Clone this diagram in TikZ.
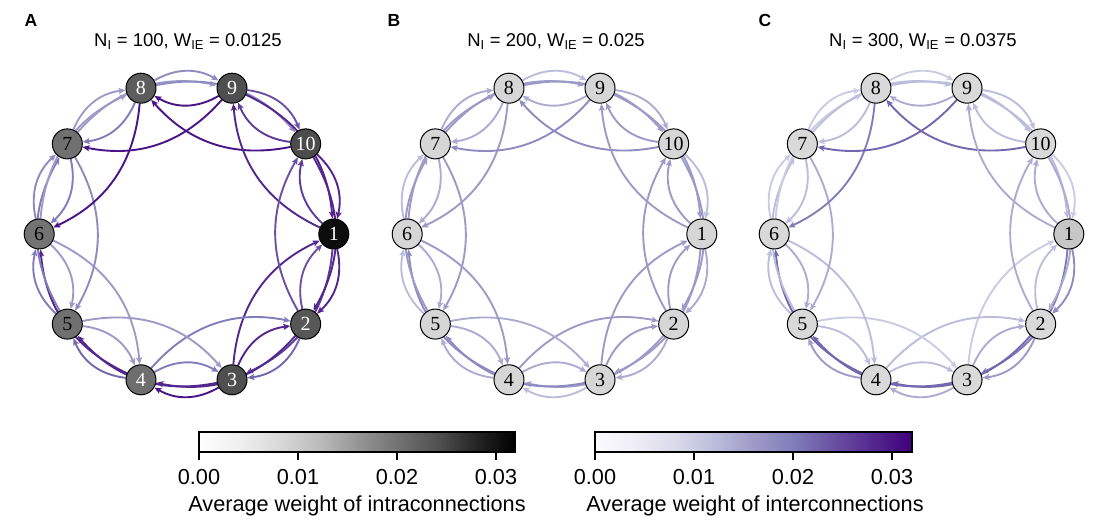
\documentclass[tikz,border=0pt]{standalone}
\usepackage{fontspec}
\setmainfont{Liberation Serif}
\setsansfont{Liberation Sans}
\usetikzlibrary{arrows.meta}
\pgfdeclarelayer{edges}
\pgfsetlayers{edges,main}
\definecolor{P0}{HTML}{FCFBFD}\definecolor{P1}{HTML}{EFEDF5}\definecolor{P2}{HTML}{DADAEB}
\definecolor{P3}{HTML}{BCBDDC}\definecolor{P4}{HTML}{9E9AC8}\definecolor{P5}{HTML}{807DBA}
\definecolor{P6}{HTML}{6A51A3}\definecolor{P7}{HTML}{54278F}\definecolor{P8}{HTML}{3F007D}
\definecolor{G0}{HTML}{FFFFFF}\definecolor{G1}{HTML}{F0F0F0}\definecolor{G2}{HTML}{D9D9D9}
\definecolor{G3}{HTML}{BDBDBD}\definecolor{G4}{HTML}{969696}\definecolor{G5}{HTML}{737373}
\definecolor{G6}{HTML}{525252}\definecolor{G7}{HTML}{252525}\definecolor{G8}{HTML}{000000}
\colorlet{L20}{P2}\colorlet{L25}{P2!50!P3}\colorlet{L30}{P3}\colorlet{L35}{P3!50!P4}
\colorlet{L40}{P4}\colorlet{L45}{P4!50!P5}\colorlet{L50}{P5}\colorlet{L55}{P5!50!P6}
\colorlet{L60}{P6}\colorlet{L65}{P6!50!P7}\colorlet{L70}{P7}\colorlet{L75}{P7!50!P8}\colorlet{L80}{P8}
\pgfdeclarehorizontalshading{purples}{100bp}{color(0bp)=(P0); color(25bp)=(P0); color(31.25bp)=(P1); color(37.5bp)=(P2); color(43.75bp)=(P3); color(50bp)=(P4); color(56.25bp)=(P5); color(62.5bp)=(P6); color(68.75bp)=(P7); color(75bp)=(P8); color(100bp)=(P8)}
\pgfdeclarehorizontalshading{greys}{100bp}{color(0bp)=(G0); color(25bp)=(G0); color(31.25bp)=(G1); color(37.5bp)=(G2); color(43.75bp)=(G3); color(50bp)=(G4); color(56.25bp)=(G5); color(62.5bp)=(G6); color(68.75bp)=(G7); color(75bp)=(G8); color(100bp)=(G8)}
\begin{document}
\begin{tikzpicture}[x=1pt,y=1pt,
  nd/.style={circle, draw=black, line width=1pt, minimum size=30pt, inner sep=0pt, font=\fontsize{20}{20}\selectfont},
  lnk/.style={line width=1.9pt, -{Stealth[length=7pt,width=6pt,inset=1.5pt]}, bend left=30},
  ttl/.style={font=\sffamily\fontsize{18.5}{18.5}\selectfont},
  plab/.style={font=\sffamily\bfseries\fontsize{17.5}{17.5}\selectfont},
  cbt/.style={font=\sffamily\fontsize{21.7}{21.7}\selectfont}]
\useasboundingbox (0,0) rectangle (1111,530);
% panel letters and titles
\node[plab] (lA) at (31,510) {A};
\node[plab] (lB) at (394,510) {B};
\node[plab] (lC) at (765,510) {C};
\node[ttl] (tA) at (188,488) {N\textsubscript{I} = 100, W\textsubscript{IE} = 0.0125};
\node[ttl] (tB) at (556,488) {N\textsubscript{I} = 200, W\textsubscript{IE} = 0.025};
\node[ttl] (tC) at (923,488) {N\textsubscript{I} = 300, W\textsubscript{IE} = 0.0375};
% nodes
\foreach \k/\f/\t in {1/95/white,2/66/white,3/69/white,4/57/white,5/56/black,6/55/black,7/56/black,8/64/white,9/69/white,10/70/white}
  \node[nd, fill=black!\f, text=\t] (A\k) at ({186.5+147.3*cos(-(\k-1)*36)},{296+153.3*sin(-(\k-1)*36)}) {\k};
\foreach \k/\f in {1/16,2/16,3/16,4/16,5/16,6/16,7/16,8/16,9/16,10/16}
  \node[nd, fill=black!\f] (B\k) at ({554.5+147.3*cos(-(\k-1)*36)},{296+153.3*sin(-(\k-1)*36)}) {\k};
\foreach \k/\f in {1/22,2/15,3/15,4/15,5/15,6/15,7/15,8/15,9/15,10/15}
  \node[nd, fill=black!\f] (C\k) at ({921.5+147.3*cos(-(\k-1)*36)},{296+153.3*sin(-(\k-1)*36)}) {\k};
% edges
\begin{pgfonlayer}{edges}
\foreach \a/\b/\c in {1/2/70,2/3/55,3/4/75,4/5/55,5/6/50,6/7/45,7/8/40,8/9/45,9/10/60,10/1/70,
  2/1/60,3/2/70,4/3/50,5/4/40,6/5/40,7/6/50,8/7/50,9/8/75,10/9/65,1/10/65,
  1/3/65,2/4/70,3/5/70,4/6/70,5/7/50,6/8/40,7/9/40,8/10/45,9/1/70,10/2/70,
  3/1/70,4/2/50,5/3/40,6/4/40,7/5/45,8/6/75,9/7/75,10/8/75,1/9/70,2/10/60}
  \draw[lnk, color=L\c] (A\a) to (A\b);
\foreach \a/\b/\c in {1/2/35,2/3/35,3/4/30,4/5/35,5/6/30,6/7/30,7/8/35,8/9/30,9/10/35,10/1/30,
  2/1/40,3/2/40,4/3/35,5/4/35,6/5/35,7/6/35,8/7/35,9/8/35,10/9/40,1/10/40,
  1/3/40,2/4/40,3/5/45,4/6/45,5/7/40,6/8/40,7/9/40,8/10/40,9/1/40,10/2/40,
  3/1/40,4/2/40,5/3/35,6/4/40,7/5/40,8/6/40,9/7/45,10/8/45,1/9/40,2/10/40}
  \draw[lnk, color=L\c] (B\a) to (B\b);
\foreach \a/\b/\c in {1/2/45,2/3/40,3/4/35,4/5/40,5/6/30,6/7/25,7/8/25,8/9/25,9/10/30,10/1/25,
  2/1/30,3/2/35,4/3/30,5/4/30,6/5/35,7/6/30,8/7/30,9/8/35,10/9/30,1/10/35,
  1/3/50,2/4/55,3/5/55,4/6/55,5/7/30,6/8/25,7/9/30,8/10/30,9/1/30,10/2/35,
  3/1/25,4/2/30,5/3/25,6/4/30,7/5/35,8/6/50,9/7/55,10/8/55,1/9/35,2/10/35}
  \draw[lnk, color=L\c] (C\a) to (C\b);
\end{pgfonlayer}
% colorbars
\shade[shading=greys] (199,78) rectangle (515,98);
\draw[line width=1.1pt] (199,78) rectangle (515,98);
\foreach \x/\l in {199/0.00,298/0.01,397/0.02,496/0.03}{
  \draw[line width=1.1pt] (\x,78) -- (\x,70);
  \node[cbt] at (\x,53) {\l};}
\node[cbt] (cbA) at (357,24) {Average weight of intraconnections};
\shade[shading=purples] (595,78) rectangle (912,98);
\draw[line width=1.1pt] (595,78) rectangle (912,98);
\foreach \x/\l in {595/0.00,694/0.01,793/0.02,892/0.03}{
  \draw[line width=1.1pt] (\x,78) -- (\x,70);
  \node[cbt] at (\x,53) {\l};}
\node[cbt] (cbB) at (755,24) {Average weight of interconnections};
\end{tikzpicture}
\end{document}
